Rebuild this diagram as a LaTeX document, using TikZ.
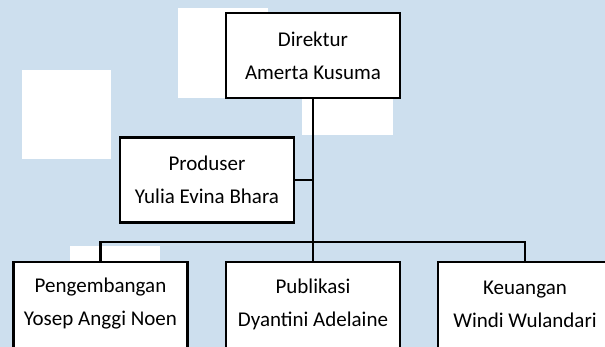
\documentclass[tikz,border=0pt]{standalone}
\usepackage{fontspec}
\setmainfont{Carlito}
\definecolor{bgblue}{RGB}{205,223,238}
\begin{document}
\begin{tikzpicture}[x=1pt,y=-1pt,
  orgbox/.style={draw=black,line width=2.4pt,fill=white,minimum width=174pt,minimum height=85pt,
    align=center,inner sep=0pt,font=\fontsize{21}{33}\selectfont},
  lowbox/.style={orgbox,minimum height=130pt,anchor=north},
  boxtext/.style={align=center,inner sep=0pt,font=\fontsize{21}{33}\selectfont},
  link/.style={draw=black,line width=2.4pt},
  patch/.style={fill=white,draw=none}]
\path[use as bounding box] (0,0) rectangle (605,346);
\begin{scope}
\clip (0,0) rectangle (605,346);
\fill[bgblue] (-5,-5) rectangle (610,351);
% white patches
\fill[patch] (178,8) rectangle (268,98);
\fill[patch] (22,70) rectangle (111,159);
\fill[patch] (302,40) rectangle (393,135);
\fill[patch] (70,246) rectangle (160,300);
% nodes
\node[orgbox] (d) at (313,55.5) {};
\node[orgbox] (p) at (207,180) {};
\node[lowbox] (b1) at (100.5,261) {};
\node[lowbox] (b2) at (313,261) {};
\node[lowbox] (b3) at (525,261) {};
\coordinate (bus) at (313,242);
% connectors
\draw[link] (d.south) -- (bus);
\draw[link] (p.east) -- (p.east -| d.south);
\draw[link] (b1.north) |- (bus) -| (b3.north);
\draw[link] (b2.north) -- (bus);
% boxes on top of connector ends
\node[orgbox] at (d) {};
\node[orgbox] at (p) {};
\node[lowbox] at (b1.north) {};
\node[lowbox] at (b2.north) {};
\node[lowbox] at (b3.north) {};
% texts
\node[boxtext] (dt) at (d) {Direktur\\Amerta Kusuma};
\node[boxtext] (pt) at (p) {Produser\\Yulia Evina Bhara};
\node[boxtext] (b1t) at ([yshift=-43pt]b1.north) {Pengembangan\\Yosep Anggi Noen};
\node[boxtext] (b2t) at ([yshift=-43pt]b2.north) {Publikasi\\Dyantini Adelaine};
\node[boxtext] (b3t) at ([yshift=-43pt]b3.north) {Keuangan\\Windi Wulandari};
\end{scope}
\end{tikzpicture}
\end{document}
